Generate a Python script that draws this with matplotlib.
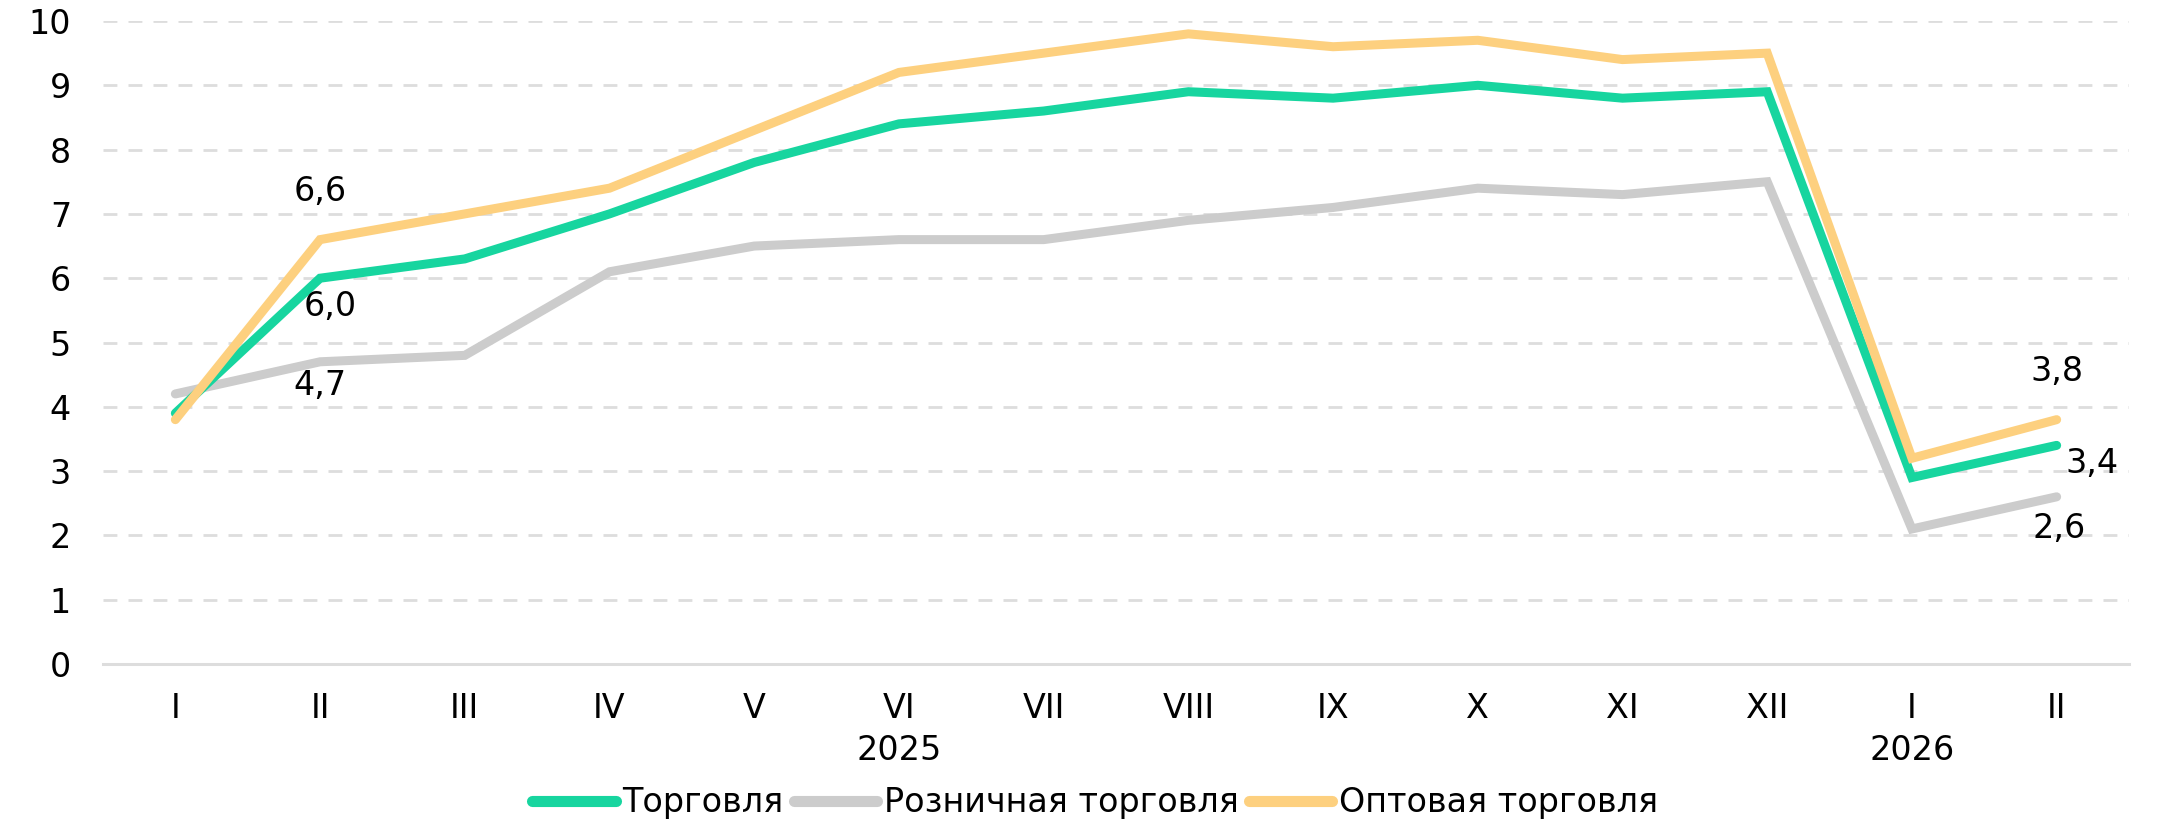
import numpy as np
import matplotlib
matplotlib.use("Agg")
import matplotlib.pyplot as plt
import matplotlib.transforms as mtransforms

months = ["I", "II", "III", "IV", "V", "VI", "VII", "VIII", "IX", "X", "XI", "XII", "I", "II"]
trade = [3.9, 6.0, 6.3, 7.0, 7.8, 8.4, 8.6, 8.9, 8.8, 9.0, 8.8, 8.9, 2.9, 3.4]
retail = [4.2, 4.7, 4.8, 6.1, 6.5, 6.6, 6.6, 6.9, 7.1, 7.4, 7.3, 7.5, 2.1, 2.6]
wholesale = [3.8, 6.6, 7.0, 7.4, 8.3, 9.2, 9.5, 9.8, 9.6, 9.7, 9.4, 9.5, 3.2, 3.8]
years = [(5, "2025"), (12, "2026")]

c_trade = "#17D59F"
c_retail = "#CCCCCC"
c_whole = "#FDD07F"
grid_c = "#DDDDDD"
fs = 24

plt.rcParams["font.family"] = ["DejaVu Sans"]

fig = plt.figure(figsize=(21.77, 8.31), dpi=100)
ax = fig.add_axes([103 / 2177, 1 - 664 / 831, (2129 - 103) / 2177, (664 - 21) / 831])

x = np.arange(len(months))
kw = dict(lw=6.5, solid_capstyle="round", solid_joinstyle="miter")
ax.plot(x, trade, color=c_trade, label="Торговля", zorder=3, **kw)
ax.plot(x, retail, color=c_retail, label="Розничная торговля", zorder=2, **kw)
ax.plot(x, wholesale, color=c_whole, label="Оптовая торговля", zorder=4, **kw)

ax.set_xlim(-0.5, len(months) - 0.5)
ax.set_ylim(0, 10)
ax.set_yticks(range(0, 11))
ax.set_xticks(x)
ax.set_xticklabels(months)
ax.tick_params(axis="both", length=0, labelsize=fs, colors="black")
ax.tick_params(axis="x", pad=20)
ax.tick_params(axis="y", pad=23)

for s in ["top", "right", "left"]:
    ax.spines[s].set_visible(False)
ax.spines["bottom"].set_color(grid_c)
ax.spines["bottom"].set_linewidth(2.2)

for v in range(1, 11):
    ax.axhline(v, color=grid_c, lw=2, ls=(0, (5, 4)), zorder=1)

# year labels below month ticks
trans = mtransforms.blended_transform_factory(ax.transData, ax.transAxes)
for xi, yr in years:
    ax.annotate(yr, xy=(xi, 0), xycoords=trans, xytext=(0, -87), textcoords="offset pixels",
                ha="center", va="center", fontsize=fs)

def lab(i, vals, dx, dy):
    ax.annotate(f"{vals[i]:.1f}".replace(".", ","), xy=(i, vals[i]), xytext=(dx, dy),
                textcoords="offset pixels", ha="center", va="center", fontsize=fs, zorder=5)

lab(1, wholesale, 0, 48)
lab(1, trade, 10, -28)
lab(1, retail, 0, -24)
lab(13, wholesale, 0, 48)
lab(13, trade, 35, -18)
lab(13, retail, 2, -32)

leg = fig.legend(loc="center", bbox_to_anchor=(0.503, 0.034), ncol=3, frameon=False, fontsize=fs,
                 handlelength=2.5, handletextpad=0.2, columnspacing=0.3)
for h in leg.get_lines():
    h.set_linewidth(8)
    h.set_solid_capstyle("round")

fig.savefig("out.png", dpi=100)
